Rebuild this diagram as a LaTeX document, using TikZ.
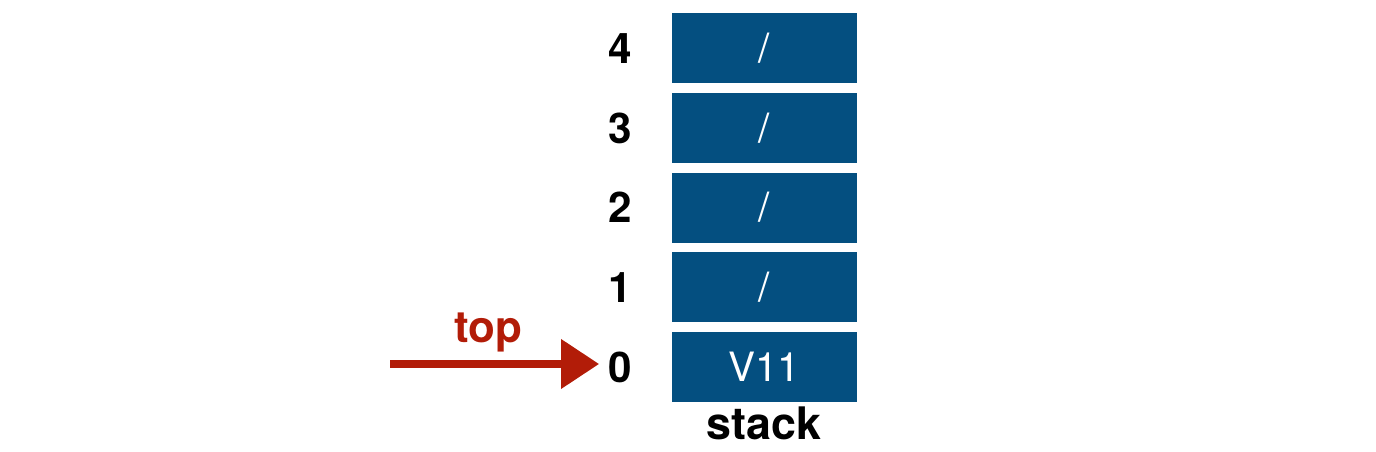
\documentclass[tikz,border=0pt]{standalone}
\usepackage{fontspec}
\setmainfont{TeX Gyre Heros}
\usepackage{xcolor}
\usepackage{tikz}
\usetikzlibrary{arrows.meta, positioning}

\definecolor{cellblue}{RGB}{4,79,128}
\definecolor{topred}{RGB}{178,28,8}

\begin{document}
\begin{tikzpicture}[
    x=0.02cm, y=0.02cm,
    node distance=0.18cm and 0.8cm,
    cell/.style={rectangle, fill=cellblue, minimum width=3.7cm, minimum height=1.4cm, text=white, font=\fontsize{23}{27}\selectfont},
    idx/.style={font=\fontsize{24}{28}\selectfont\bfseries},
    arrow/.style={line width=4.2pt, draw=topred, -{Triangle[length=0.76cm, width=0.96cm]}}
]
\useasboundingbox (0,0) rectangle (1376,452);

% Stack cells, bottom to top
\node [cell] (s0) at (764.5,85) {V11};
\node [cell, above=of s0] (s1) {/};
\node [cell, above=of s1] (s2) {/};
\node [cell, above=of s2] (s3) {/};
\node [cell, above=of s3] (s4) {/};

% Indices
\foreach \i in {0,...,4}
  \node [idx] (l\i) at (620,0 |- s\i) {\i};

\node [font=\fontsize{25.5}{30}\selectfont\bfseries] (name) at (764,29) {stack};

% Top pointer
\coordinate (tail) at (390,88);
\draw [arrow, shorten >=0.06cm] (tail) -- (tail -| l0.west);
\node [text=topred, font=\fontsize{25}{30}\selectfont\bfseries] (top) at (488,120) {top};
\end{tikzpicture}
\end{document}
